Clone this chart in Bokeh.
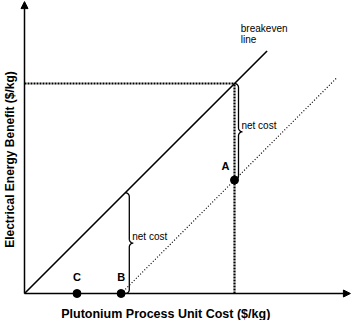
import numpy as np
from bokeh.plotting import figure
from bokeh.models import Range1d, Arrow, NormalHead, Label, ColumnDataSource
from bokeh.core.properties import value
from bokeh.embed import file_html
from bokeh.resources import INLINE

# ---- data ----
point_labels = ["A", "B", "C"]
point_x = [10.0, 4.6, 2.5]
point_y = [5.4, 0.0, 0.0]
breakeven_x = [0.0, 11.55]
breakeven_y = [0.0, 11.55]
offset_x = [4.6, 14.85]
offset_y = [0.0, 10.25]
ref_cost = 10.0      # cost of point A
ref_benefit = 10.0   # benefit on breakeven line at A
brace2_x = 4.8       # position of the lower "net cost" brace
x_axis_end = 15.52
y_axis_end = 13.9

S = 21.0  # px per unit
W, H = 351, 320
x0px, y0px = 24, 293

p = figure(width=W, height=H, output_backend="svg", toolbar_location=None,
           min_border=0, min_border_left=0, min_border_right=0,
           min_border_top=0, min_border_bottom=0)
p.x_range = Range1d(-x0px / S, (W - x0px) / S)
p.y_range = Range1d(-(H - y0px) / S, y0px / S)
p.axis.visible = False
p.grid.visible = False
p.outline_line_color = None
p.background_fill_color = "white"
p.border_fill_color = "white"

FONT = value("Liberation Sans")

# axes with arrows
p.add_layout(Arrow(end=NormalHead(size=7, fill_color="black", line_color="black"),
                   x_start=0, y_start=0, x_end=x_axis_end, y_end=0,
                   line_color="black", line_width=1.5))
p.add_layout(Arrow(end=NormalHead(size=7, fill_color="black", line_color="black"),
                   x_start=0, y_start=0, x_end=0, y_end=y_axis_end,
                   line_color="black", line_width=1.5))

# breakeven line
p.line(breakeven_x, breakeven_y, line_color="black", line_width=1.6)
# offset (dotted) line
p.line(offset_x, offset_y, line_color="black", line_width=1.2, line_dash="1 2")
# reference dotted lines
p.line([0, ref_cost], [ref_benefit, ref_benefit], line_color="black", line_width=2.2, line_dash="2 1")
p.line([ref_cost, ref_cost], [0, ref_benefit], line_color="black", line_width=2.2, line_dash="2 1")


def brace(x0, ya, yb, r):
    ym = 0.5 * (ya + yb)
    xs, ys = [], []
    for yend, d in ((ya, 1 if ym > ya else -1), (yb, 1 if ym > yb else -1)):
        th = np.linspace(0, np.pi / 2, 12)
        hx = list(x0 + r * np.sin(th)) + list(x0 + r + r * (1 - np.cos(th)))
        hy = list(yend + d * r * (1 - np.cos(th))) + list(ym - d * r + d * r * np.sin(th))
        if not xs:
            xs, ys = hx, hy
        else:
            xs += hx[::-1]
            ys += hy[::-1]
    return xs, ys


r = 4.0 / S
bx, by = brace(ref_cost, ref_benefit, point_y[0], r)
p.line(bx, by, line_color="black", line_width=1.3)
bx2, by2 = brace(brace2_x, brace2_x, 0.0, r)
p.line(bx2, by2, line_color="black", line_width=1.3)

# points
src = ColumnDataSource(dict(x=point_x, y=point_y, t=point_labels,
                            xo=[-9, 0, 0], yo=[-8, -11, -11]))
p.scatter("x", "y", source=src, size=8, color="black")
p.text("x", "y", text="t", source=src, x_offset="xo", y_offset="yo",
       text_align="center", text_baseline="bottom", text_font=FONT,
       text_font_style="bold", text_font_size="11px", text_color="black")

# annotations
p.text([breakeven_x[1] - 1.25], [breakeven_y[1] + 1.05], text=["breakeven"],
       text_font=FONT, text_font_size="10px", text_baseline="middle", text_align="left")
p.text([breakeven_x[1] - 1.25], [breakeven_y[1] + 0.55], text=["line"],
       text_font=FONT, text_font_size="10px", text_baseline="middle", text_align="left")
p.text([ref_cost + 0.33], [0.5 * (ref_benefit + point_y[0]) + 0.3], text=["net cost"],
       text_font=FONT, text_font_size="10px", text_baseline="middle", text_align="left")
p.text([brace2_x + 0.33], [0.5 * brace2_x + 0.3], text=["net cost"],
       text_font=FONT, text_font_size="10px", text_baseline="middle", text_align="left")

p.add_layout(Label(x=167, y=7, x_units="screen", y_units="screen",
                   text="Plutonium Process Unit Cost  ($/kg)", text_font="Liberation Sans",
                   text_font_style="bold", text_font_size="12.5px", text_color="black",
                   text_align="center", text_baseline="middle"))
p.add_layout(Label(x=9, y=161, x_units="screen", y_units="screen", angle=np.pi / 2,
                   text="Electrical Energy Benefit ($/kg)", text_font="Liberation Sans",
                   text_font_style="bold", text_font_size="12px", text_color="black",
                   text_align="center", text_baseline="middle"))

open("out.html", "w").write(file_html(p, INLINE))
